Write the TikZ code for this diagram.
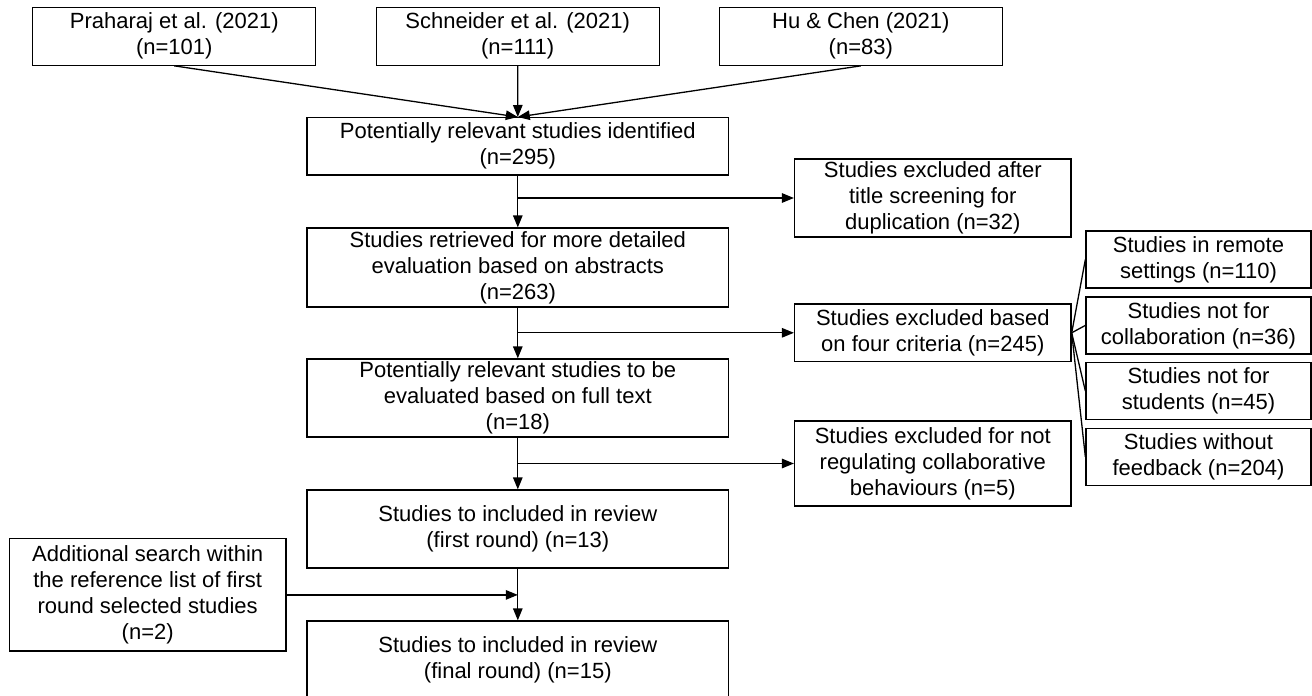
\documentclass[tikz,border=0pt]{standalone}
\usepackage{fontspec}
\setmainfont{Liberation Sans}
\usetikzlibrary{arrows.meta}
\begin{document}
\begin{tikzpicture}[x=1pt,y=-1pt,
  box/.style={draw=black, line width=1.3pt, inner sep=0pt, align=center,
    font=\fontsize{22}{26}\selectfont},
  arr/.style={line width=1.3pt, -{Triangle[length=12pt,width=9.5pt]}},
  ln/.style={line width=1.3pt}]
\useasboundingbox (0,0) rectangle (1312,696);
% top sources
\node[box, minimum width=283, minimum height=58] (prah) at (174.3,36.2) {Praharaj et al. (2021)\\(n=101)};
\node[box, minimum width=283, minimum height=58] (schn) at (517.7,36.2) {Schneider et al. (2021)\\(n=111)};
\node[box, minimum width=283, minimum height=58] (hu) at (860.8,36.2) {Hu \& Chen (2021)\\(n=83)};
% main column
\node[box, minimum width=421.7, minimum height=57.3] (ident) at (517.8,146.3) {Potentially relevant studies identified\\(n=295)};
\node[box, minimum width=421.7, minimum height=79] (retr) at (517.8,267.5) {Studies retrieved for more detailed\\evaluation based on abstracts\\(n=263)};
\node[box, minimum width=421.7, minimum height=78] (full) at (517.8,398) {Potentially relevant studies to be\\evaluated based on full text\\(n=18)};
\node[box, minimum width=421.7, minimum height=78] (first) at (517.8,529) {Studies to included in review\\(first round) (n=13)};
\node[box, minimum width=421.7, minimum height=78] (final) at (517.8,660) {Studies to included in review\\(final round) (n=15)};
% exclusions
\node[box, minimum width=276.5, minimum height=78] (title) at (932.8,198) {Studies excluded after\\title screening for\\duplication (n=32)};
\node[box, minimum width=276.5, minimum height=57.7] (crit) at (932.8,332.8) {Studies excluded based\\on four criteria (n=245)};
\node[box, minimum width=276.5, minimum height=85] (notreg) at (932.8,463.5) {Studies excluded for not\\regulating collaborative\\behaviours (n=5)};
% criteria
\node[box, minimum width=225, minimum height=57] (remote) at (1198.5,259.5) {Studies in remote\\settings (n=110)};
\node[box, minimum width=225, minimum height=57] (collab) at (1198.5,325.4) {Studies not for\\collaboration (n=36)};
\node[box, minimum width=225, minimum height=57] (stud) at (1198.5,391) {Studies not for\\students (n=45)};
\node[box, minimum width=225, minimum height=57] (feed) at (1198.5,456.9) {Studies without\\feedback (n=204)};
% additional search
\node[box, minimum width=276.7, minimum height=112.3] (add) at (147.7,594.9) {Additional search within\\the reference list of first\\round selected studies\\(n=2)};
% connectors
\draw[arr] (prah.south) -- (ident.north);
\draw[arr] (schn.south) -- (ident.north);
\draw[arr] (hu.south) -- (ident.north);
\draw[arr] (ident.south) -- (retr.north);
\draw[arr] (retr.south) -- (full.north);
\draw[arr] (full.south) -- (first.north);
\draw[arr] (first.south) -- (final.north);
\coordinate (j1) at (ident.south |- title.west);
\coordinate (j2) at (retr.south |- crit.west);
\coordinate (j3) at (full.south |- notreg.west);
\coordinate (j4) at (first.south |- add.east);
\draw[arr] (j1) -- (title.west);
\draw[arr] (j2) -- (crit.west);
\draw[arr] (j3) -- (notreg.west);
\draw[arr] (add.east) -- (j4);
\draw[ln] (crit.east) -- (remote.west);
\draw[ln] (crit.east) -- (collab.west);
\draw[ln] (crit.east) -- (stud.west);
\draw[ln] (crit.east) -- (feed.west);
\end{tikzpicture}
\end{document}
